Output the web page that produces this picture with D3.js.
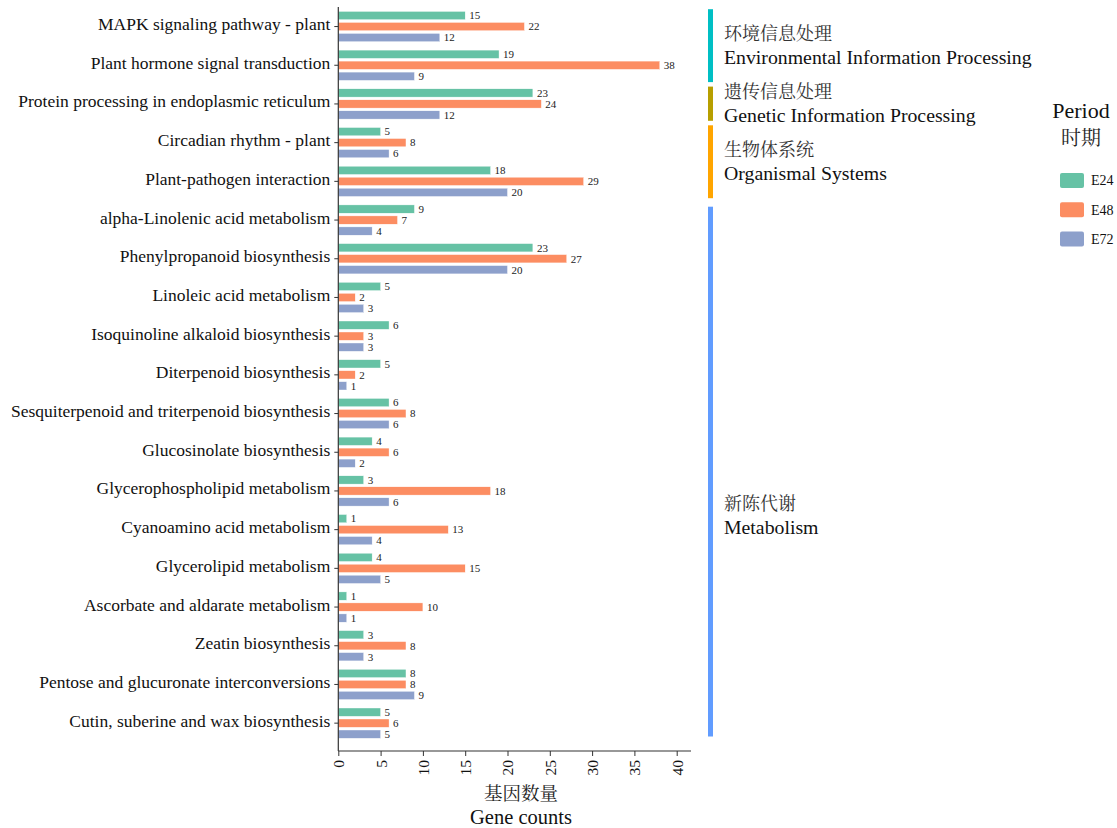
<!DOCTYPE html>
<html><head><meta charset="utf-8">
<script src="https://cdn.jsdelivr.net/npm/d3@7"></script>
<style>body{margin:0;background:#fff}svg{display:block}</style>
</head><body>
<svg id="chart" width="1117" height="828"></svg>
<script>
const categories = [
  "MAPK signaling pathway - plant",
  "Plant hormone signal transduction",
  "Protein processing in endoplasmic reticulum",
  "Circadian rhythm - plant",
  "Plant-pathogen interaction",
  "alpha-Linolenic acid metabolism",
  "Phenylpropanoid biosynthesis",
  "Linoleic acid metabolism",
  "Isoquinoline alkaloid biosynthesis",
  "Diterpenoid biosynthesis",
  "Sesquiterpenoid and triterpenoid biosynthesis",
  "Glucosinolate biosynthesis",
  "Glycerophospholipid metabolism",
  "Cyanoamino acid metabolism",
  "Glycerolipid metabolism",
  "Ascorbate and aldarate metabolism",
  "Zeatin biosynthesis",
  "Pentose and glucuronate interconversions",
  "Cutin, suberine and wax biosynthesis"
];
const periods = ["E24", "E48", "E72"];
const E24 = [15,19,23,5,18,9,23,5,6,5,6,4,3,1,4,1,3,8,5];
const E48 = [22,38,24,8,29,7,27,2,3,2,8,6,18,13,15,10,8,8,6];
const E72 = [12,9,12,6,20,4,20,3,3,1,6,2,6,4,5,1,3,9,5];
const periodColors = ["#66C2A5", "#FC8D62", "#8DA0CB"];
const groupZh = ["环境信息处理", "遗传信息处理", "生物体系统", "新陈代谢"];
const groupEn = ["Environmental Information Processing", "Genetic Information Processing", "Organismal Systems", "Metabolism"];
const groupFirst = [0, 2, 3, 5];
const groupLast = [1, 2, 4, 18];
const groupColors = ["#00BFC4", "#B79F00", "#FFA500", "#619CFF"];
const xTicks = [0,5,10,15,20,25,30,35,40];
const legendTitle = ["Period", "时期"];
const axisTitle = ["基因数量", "Gene counts"];

const series = [E24, E48, E72];
const data = categories.map((c, i) => ({cat: c, vals: periods.map((p, j) => ({p, v: series[j][i], j}))}));

const serif = "'Liberation Serif','Times New Roman',serif";
const cjk = "'Noto Serif CJK SC','Noto Sans CJK SC',sans-serif";

const svg = d3.select("#chart");
const x = d3.scaleLinear().domain([0, 40]).range([338.3, 676.7]);
const y = d3.scaleBand().domain(categories).range([7.2, 742.5]).padding(0);
const y1 = d3.scaleBand().domain(periods).range([4.2, 34.5]).paddingInner(0.245).paddingOuter(0);
const axisY0 = 751, axisX1 = 691;

// bars
const g = svg.append("g");
const rows = g.selectAll("g.row").data(data).join("g")
  .attr("transform", d => `translate(0,${y(d.cat)})`);
rows.selectAll("rect").data(d => d.vals).join("rect")
  .attr("x", x(0))
  .attr("y", d => y1(d.p))
  .attr("width", d => x(d.v) - x(0))
  .attr("height", y1.bandwidth())
  .attr("fill", d => periodColors[d.j])
  .attr("stroke", "#fff").attr("stroke-width", 0.4);
rows.selectAll("text").data(d => d.vals).join("text")
  .attr("x", d => x(d.v) + 4)
  .attr("y", d => y1(d.p) + y1.bandwidth() / 2)
  .attr("dy", "0.35em")
  .attr("font-family", serif).attr("font-size", 11).attr("fill", "#222")
  .text(d => d.v);

// y axis
const yAxis = svg.append("g").attr("transform", `translate(${x(0)},0)`)
  .call(d3.axisLeft(y).tickSize(4).tickPadding(4));
yAxis.select(".domain").remove();
yAxis.selectAll("text").attr("font-family", serif).attr("font-size", 17.5).attr("fill", "#111")
  .attr("dy", "0.2em");
yAxis.selectAll("line").attr("stroke", "#333");
svg.append("line").attr("x1", x(0)).attr("x2", x(0)).attr("y1", 7).attr("y2", axisY0)
  .attr("stroke", "#333").attr("stroke-width", 1.2);

// x axis
const xAxis = svg.append("g").attr("transform", `translate(0,${axisY0})`)
  .call(d3.axisBottom(x).tickValues(xTicks).tickSize(5));
xAxis.select(".domain").remove();
xAxis.selectAll("line").attr("stroke", "#333");
xAxis.selectAll("text")
  .attr("font-family", serif).attr("font-size", 15.5).attr("fill", "#111")
  .attr("transform", "rotate(-90)")
  .attr("text-anchor", "end")
  .attr("x", -9).attr("y", 0).attr("dy", "0.35em");
svg.append("line").attr("x1", x(0)).attr("x2", axisX1).attr("y1", axisY0).attr("y2", axisY0)
  .attr("stroke", "#333").attr("stroke-width", 1.2);

// axis title
const midX = 521;
svg.append("text").attr("x", midX).attr("y", 800).attr("text-anchor", "middle")
  .attr("font-family", cjk).attr("font-size", 18.5).attr("fill", "#222").text(axisTitle[0]);
svg.append("text").attr("x", midX).attr("y", 824).attr("text-anchor", "middle")
  .attr("font-family", serif).attr("font-size", 20.5).attr("fill", "#111").text(axisTitle[1]);

// group annotations
const gg = svg.append("g");
groupZh.forEach((zh, i) => {
  const top = y(categories[groupFirst[i]]);
  const bot = y(categories[groupLast[i]]) + y.step();
  const inset = i === 3 ? 6 : 2;
  gg.append("rect").attr("x", 708).attr("width", 5)
    .attr("y", top + inset).attr("height", bot - top - inset - (i === 3 ? 6 : 2.5))
    .attr("fill", groupColors[i]);
  const cy = i === 3 ? y(categories[13]) + 6 : (top + bot) / 2;
  gg.append("text").attr("x", 724).attr("y", cy - 6).attr("font-family", cjk)
    .attr("font-size", 18).attr("fill", "#333").text(zh);
  gg.append("text").attr("x", 724).attr("y", cy + 18).attr("font-family", serif)
    .attr("font-size", 19.8).attr("fill", "#111").text(groupEn[i]);
});

// legend
const lg = svg.append("g");
lg.append("text").attr("x", 1081).attr("y", 118).attr("text-anchor", "middle")
  .attr("font-family", serif).attr("font-size", 22).attr("fill", "#111").text(legendTitle[0]);
lg.append("text").attr("x", 1081).attr("y", 145).attr("text-anchor", "middle")
  .attr("font-family", cjk).attr("font-size", 20).attr("fill", "#222").text(legendTitle[1]);
const li = lg.selectAll("g.item").data(periods).join("g")
  .attr("transform", (d, i) => `translate(1060,${173 + i * 29.3})`);
li.append("rect").attr("width", 24).attr("height", 15).attr("rx", 2)
  .attr("fill", (d, i) => periodColors[i]);
li.append("text").attr("x", 31).attr("y", 7.5).attr("dy", "0.35em")
  .attr("font-family", serif).attr("font-size", 14).attr("fill", "#111").text(d => d);
</script>
</body></html>
